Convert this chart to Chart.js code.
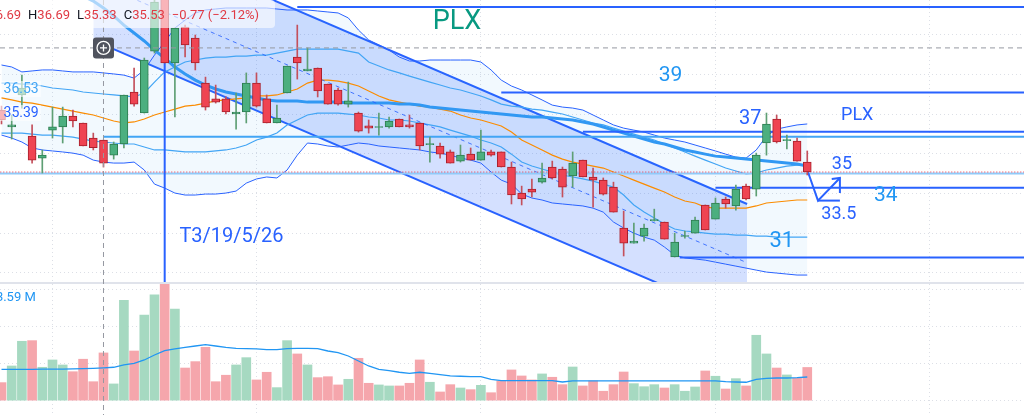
<!DOCTYPE html>
<html>
<head>
<meta charset="utf-8">
<title>PLX</title>
<script src="https://cdn.jsdelivr.net/npm/chart.js"></script>
<style>
  html, body { margin: 0; padding: 0; background: #fff; overflow: hidden; }
</style>
</head>
<body>
<canvas id="plx" width="1024" height="415"></canvas>
<script>
// daily candles, index 0 = first bar on screen
const open = [38.20,37.35,38.96,36.89,35.78,37.19,37.35,37.90,37.55,36.79, 36.69,35.93,36.49,39.11,38.05,41.17,44.25,40.57,42.38,41.83,
  39.56,38.76,38.76,38.00,38.10,39.56,38.76,37.55,39.06,40.87, 40.17,40.32,39.51,39.21,38.50,38.05,37.40,37.32,37.35,37.75,
  37.45,37.55,36.46,36.39,36.09,35.63,35.98,35.68,36.09,36.09, 35.33,34.02,34.22,34.57,35.33,35.23,34.88,35.68,34.83,34.67,
  34.32,32.26,31.50,31.85,32.63,32.56,30.80,31.83,32.00,33.42, 32.71,33.72,33.37,34.37,34.22,36.54,37.75,36.66,36.64,35.58];
const high = [38.40,37.95,39.96,37.45,36.19,38.35,38.35,38.20,37.55,37.04, 36.69,36.59,38.96,40.32,40.82,43.84,44.50,42.33,42.48,41.98,
  39.86,39.46,38.86,39.06,40.07,40.07,38.96,38.45,40.42,42.48, 41.33,40.32,39.51,39.31,39.61,38.10,37.70,38.05,37.85,37.75,
  37.95,37.55,36.84,36.54,36.19,36.44,36.29,37.19,36.19,36.09, 35.58,34.37,34.73,35.53,35.63,35.33,36.09,35.68,35.28,34.78,
  34.57,33.11,32.51,32.46,33.21,32.56,32.00,32.11,32.81,33.42, 33.77,33.82,34.42,34.47,36.03,38.05,37.95,36.94,36.79,36.14];
const low = [37.50,36.74,38.30,35.53,35.03,36.79,36.54,37.35,36.39,36.19, 35.33,35.73,36.29,38.40,38.05,41.07,40.57,37.85,40.87,40.22,
  38.20,38.55,38.00,37.24,37.55,38.35,37.55,37.55,39.06,39.76, 40.17,38.86,38.50,38.45,38.35,37.09,37.04,36.94,37.29,37.35,
  37.29,36.19,35.58,35.78,35.53,35.58,35.68,35.68,35.88,35.33, 33.47,33.42,33.82,34.52,34.73,33.82,34.32,34.83,33.31,33.92,
  33.06,30.85,31.50,31.60,32.61,31.70,30.80,31.75,32.00,32.16, 32.71,33.26,33.16,33.67,33.87,35.93,36.54,36.24,35.63,34.93];
const close = [37.70,37.45,39.31,35.68,35.93,37.35,37.90,37.65,36.39,36.30, 35.53,36.49,38.96,38.50,40.72,43.64,40.57,42.33,41.48,40.57,
  38.35,38.60,38.10,38.10,39.56,38.40,37.55,37.80,40.42,40.57, 40.27,39.16,38.50,38.50,38.66,37.14,37.29,37.37,37.65,37.35,
  37.35,36.39,36.51,35.98,35.53,35.93,35.68,36.09,35.93,35.33, 33.92,33.72,34.07,34.78,34.78,34.32,35.53,34.83,34.67,33.97,
  33.06,31.50,31.60,32.26,32.68,31.70,31.55,31.88,32.66,32.16, 33.52,33.47,34.22,33.72,35.93,37.50,36.59,36.71,35.63,35.08];

// volume in millions and its average
const volume = [1.95,3.75,6.42,6.49,3.61,4.40,3.86,3.13,4.48,2.05, 5.16,1.81,10.85,5.37,9.26,11.43,12.80,9.91,3.53,4.22,
  5.77,2.05,2.75,3.86,4.65,2.24,3.07,1.41,6.49,5.05, 3.86,2.49,2.59,1.70,2.31,4.58,1.88,1.70,1.59,1.59,
  1.88,4.40,1.99,0.94,1.73,1.37,1.19,1.66,0.86,2.13, 3.32,2.67,2.24,2.89,2.53,1.73,3.64,1.59,2.13,1.02,
  1.73,3.10,1.84,1.51,1.73,1.37,1.73,1.02,1.48,3.21, 2.64,1.26,2.38,1.59,7.07,5.05,3.53,2.78,2.42,3.59];
const volumeMA = [3.39,3.39,3.39,3.39,3.40,3.41,3.42,3.44,3.46,3.50, 3.55,3.61,3.86,4.04,4.40,4.94,5.41,5.59,5.77,5.91,
  6.05,5.91,5.77,5.66,5.62,5.59,5.51,5.51,5.62,5.66, 5.66,5.62,5.37,5.19,4.83,4.29,3.75,3.39,3.24,3.07,
  2.96,3.07,2.96,2.81,2.67,2.64,2.59,2.59,2.31,2.16, 2.16,2.16,2.16,2.16,2.16,2.02,2.13,2.13,2.13,2.13,
  2.13,2.13,2.13,2.13,2.13,2.13,2.13,2.13,2.13,2.13, 2.13,2.05,2.02,1.99,2.31,2.42,2.45,2.45,2.49,2.56];

// bands
const bandUpper = [40.47,40.37,40.12,40.17,40.22,40.22,40.17,40.12,40.12,40.12, 40.07,40.02,39.96,39.81,40.22,40.97,41.63,42.33,42.73,43.09,
  43.24,43.29,43.34,43.34,43.34,43.34,43.34,43.29,43.24,43.24, 43.24,43.19,43.14,43.09,42.84,42.23,41.73,41.48,41.22,40.87,
  40.67,40.67,40.72,40.72,40.72,40.72,40.72,40.62,40.22,39.71, 39.41,39.21,38.96,38.71,38.45,38.35,38.30,38.20,37.95,37.70,
  37.45,37.29,37.19,37.09,36.94,36.79,36.69,36.59,36.44,36.29, 36.14,35.98,35.83,35.78,36.19,36.89,37.24,37.35,37.45,37.50];
const bandInnerUpper = [39.56,39.56,39.51,39.51,39.41,39.31,39.26,39.21,39.11,39.06, 39.01,38.96,38.91,38.86,39.06,39.61,40.12,40.37,40.62,40.72,
  40.82,40.87,40.87,40.92,40.92,40.97,40.97,41.07,41.17,41.27, 41.27,41.27,41.27,41.27,41.17,41.07,40.62,40.42,40.22,40.07,
  39.91,39.76,39.61,39.46,39.31,39.21,39.06,38.91,38.71,38.50, 38.40,38.35,38.25,38.20,38.10,38.00,37.85,37.70,37.55,37.45,
  37.29,37.14,36.99,36.84,36.69,36.49,36.29,36.09,35.88,35.68, 35.48,35.28,35.13,34.98,35.03,35.18,35.28,35.38,35.43,35.43];
const basis = [38.81,38.71,38.60,38.55,38.45,38.35,38.25,38.15,38.05,37.95, 37.80,37.65,37.55,37.60,37.75,37.95,38.10,38.25,38.40,38.45,
  38.55,38.66,38.71,38.76,38.81,38.91,38.91,38.96,39.11,39.26, 39.56,39.71,39.71,39.66,39.56,39.41,39.16,38.91,38.71,38.60,
  38.50,38.40,38.35,38.25,38.15,37.95,37.80,37.70,37.55,37.40, 37.09,36.69,36.44,36.19,35.93,35.73,35.58,35.48,35.38,35.28,
  35.08,34.88,34.67,34.47,34.27,34.07,33.82,33.62,33.52,33.31, 33.26,33.26,33.26,33.26,33.37,33.52,33.57,33.62,33.67,33.67];
const bandInnerLower = [37.04,37.04,37.04,36.99,36.94,36.94,36.89,36.84,36.74,36.64, 36.59,36.54,36.49,36.49,36.34,36.19,36.19,36.14,36.09,36.09,
  36.09,36.14,36.19,36.29,36.44,36.69,36.84,37.04,37.45,37.70, 37.95,38.05,38.05,38.05,38.00,37.95,37.85,37.80,37.70,37.70,
  37.65,37.55,37.45,37.35,37.19,37.04,36.89,36.69,36.54,36.34, 35.98,35.58,35.38,35.23,35.08,34.93,34.83,34.73,34.62,34.47,
  34.32,33.92,33.42,33.06,32.76,32.46,32.21,32.11,32.06,32.00, 31.95,31.95,31.90,31.90,31.85,31.85,31.80,31.80,31.80,31.80];
const bandLower = [36.94,36.79,36.59,36.29,36.19,36.14,36.09,36.03,35.93,35.68, 35.58,35.53,35.53,35.58,35.18,34.47,34.27,34.02,33.92,33.92,
  33.97,33.97,34.02,34.12,34.52,34.73,34.83,34.78,35.18,35.93, 36.54,36.49,36.39,36.34,36.44,36.54,36.49,36.39,36.34,36.29,
  36.24,36.19,36.09,36.03,35.93,35.78,35.68,35.53,35.08,34.67, 34.47,33.97,33.77,33.67,33.52,33.47,33.42,33.37,33.26,33.06,
  32.56,32.26,32.00,31.80,31.65,31.30,30.90,30.75,30.70,30.64, 30.54,30.44,30.34,30.24,30.14,30.04,29.99,29.94,29.89,29.89];
const longMA = [45.76,45.56,45.36,45.15,44.95,44.70,44.45,44.20,43.94,43.69, 43.34,42.94,42.48,42.08,41.68,41.22,40.82,40.37,40.02,39.71,
  39.46,39.26,39.11,39.01,38.91,38.81,38.71,38.66,38.66,38.66, 38.60,38.60,38.60,38.60,38.55,38.55,38.55,38.55,38.55,38.50,
  38.50,38.45,38.35,38.30,38.25,38.20,38.15,38.10,38.05,38.00, 37.95,37.90,37.85,37.85,37.80,37.75,37.70,37.60,37.50,37.35,
  37.19,37.04,36.89,36.74,36.59,36.49,36.34,36.19,36.09,35.98, 35.88,35.83,35.78,35.73,35.68,35.63,35.58,35.53,35.48,35.38];

// drawn objects, in (bar index, price)
const channelEnds = [9, 73.1];
const channelTop = [47.64, 33.47];
const channelMid = [44.68, 30.51];
const channelBottom = [41.71, 27.55];
const levelPrice = [43.39, 39.09, 37.11, 34.29, 30.78];
const levelFrom = [29, 49, 57, 70, 66.5];
const softPrice = [36.86, 35.01];
const softFrom = [10, -1];
const markerBar = 16;
const arrowBar = [79.07, 80.05, 82.2];
const arrowPrice = [35.08, 33.64, 34.78];
const arrowHeadBar = [81.4, 82.2, 82.2];
const arrowHeadPrice = [34.73, 34.78, 34.02];
const arrowBaseBar = [80.05, 82.2];
const arrowBasePrice = [33.64, 33.64];
const crossBar = 10, crossPrice = 41.33;

const noteText = ['PLX', '39', '37', 'PLX', '35', '34', '33.5', '31', 'T3/19/5/26'];
const noteBar = [44.66, 65.6, 73.4, 83.9, 82.4, 86.7, 82.1, 76.5, 22.55];
const notePrice = [42.63, 39.94, 37.75, 37.92, 35.46, 33.89, 32.94, 31.58, 31.83];
const tagText = ['36.53', '35.39'];
const tagPrice = [39.26, 38.05];

// grid positions
const priceGrid = [30, 32, 34, 36, 38, 40, 42];
const volumeGrid = [0, 4, 8, 12];
const timeGrid = [5, 25, 47, 70, 91];

const up = close.map((c, i) => c >= open[i]);
const pts = (xs, ys) => xs.map((x, k) => ({ x, y: ys[k] }));
const perBar = ys => ys.map((y, i) => ({ x: i, y }));
const flat = (p, from) => [{ x: from, y: p }, { x: 101, y: p }];
const line = (data, color, width, order, more) => Object.assign({
  type: 'line', data, borderColor: color, borderWidth: width, pointRadius: 0,
  pointHoverRadius: 0, fill: false, tension: 0, order, yAxisID: 'y'
}, more || {});

const datasets = [
  line(pts(channelEnds, channelTop), '#2962ff', 2, 40, { fill: '+1', backgroundColor: 'rgba(41,98,255,0.2)' }),
  line(pts(channelEnds, channelBottom), '#2962ff', 2, 39),
  line(perBar(bandUpper), '#2962ff', 1, 38, { fill: '+1', backgroundColor: 'rgba(33,150,243,0.06)' }),
  line(perBar(bandLower), '#2962ff', 1, 37),
  line(perBar(bandInnerUpper), '#42a5f5', 1.2, 36),
  line(perBar(bandInnerLower), '#42a5f5', 1.2, 35),
  line(perBar(basis), '#fb8c00', 1.2, 34),
  line(perBar(longMA), '#3198f3', 3, 33),
  line(pts(channelEnds, channelMid), 'rgba(41,98,255,0.85)', 1, 32, { borderDash: [4, 4] }),
  ...levelPrice.map((p, k) => line(flat(p, levelFrom[k]), '#2962ff', 2, 31)),
  line(flat(softPrice[0], softFrom[0]), '#42a5f5', 2, 31),
  line(flat(softPrice[1], softFrom[1]), '#90caf9', 2, 31),
  line(flat(close[close.length - 1], -1), '#f23645', 1, 30, { borderDash: [1, 2] }),
  line([{ x: markerBar, y: 28 }, { x: markerBar, y: 46 }], '#2962ff', 2, 30),
  line(pts(arrowBar, arrowPrice), '#2962ff', 2, 30),
  line(pts(arrowHeadBar, arrowHeadPrice), '#2962ff', 2, 30),
  line(pts(arrowBaseBar, arrowBasePrice), '#2962ff', 2, 30),
  {
    type: 'bar', yAxisID: 'v', data: perBar(volume), order: 20, grouped: false, barThickness: 9,
    backgroundColor: up.map(u => u ? '#a6d9c1' : '#f5a6ac')
  },
  line(perBar(volumeMA), '#2196f3', 1.3, 19, { yAxisID: 'v' }),
  {
    type: 'bar', yAxisID: 'y', order: 2, grouped: false, barThickness: 1,
    data: open.map((o, i) => ({ x: i, y: [low[i], high[i]] })),
    backgroundColor: up.map(u => u ? '#5e9f74' : '#c4505c')
  },
  {
    type: 'bar', yAxisID: 'y', order: 1, grouped: false, barThickness: 8, minBarLength: 1,
    borderWidth: 1, borderSkipped: false,
    data: open.map((o, i) => ({ x: i, y: [o, close[i]] })),
    backgroundColor: up.map(u => u ? '#4caf7f' : '#ef4452'),
    borderColor: up.map(u => u ? '#2e7d50' : '#a8202d')
  }
];

const axis = (grid, more) => Object.assign({
  type: 'linear',
  ticks: { display: false },
  grid: { color: '#dcdfe6', lineWidth: 1, drawTicks: false, offset: false },
  border: { display: false, dash: [1, 3] },
  afterBuildTicks: ax => { ax.ticks = grid.map(value => ({ value })); }
}, more);

const noteSize = [27, 21, 20, 18, 18, 21, 18, 22, 20];
const noteColor = ['#089981', '#2196f3', '#2962ff', '#2962ff', '#2962ff', '#2196f3', '#2962ff', '#2196f3', '#2962ff'];
const tagColor = ['#42a5f5', '#2962ff'];
const red = '#e03a44';
const fmt = n => (n < 0 ? '\u2212' : '+') + Math.abs(n).toFixed(2);

const drawings = {
  id: 'drawings',
  afterDatasetsDraw(chart) {
    const { ctx, scales: { x, y, v } } = chart;
    ctx.save();

    // pane separator
    ctx.strokeStyle = '#e0e3eb';
    ctx.lineWidth = 2;
    ctx.beginPath();
    ctx.moveTo(0, y.bottom);
    ctx.lineTo(chart.width, y.bottom);
    ctx.stroke();

    ctx.textBaseline = 'middle';
    ctx.textAlign = 'center';
    noteText.forEach((t, k) => {
      ctx.font = noteSize[k] + 'px Roboto';
      ctx.fillStyle = noteColor[k];
      ctx.fillText(t, x.getPixelForValue(noteBar[k]), y.getPixelForValue(notePrice[k]));
    });

    // left value tags
    ctx.textAlign = 'left';
    ctx.font = '14px Roboto';
    tagText.forEach((t, k) => {
      const px = x.getPixelForValue(0.2), py = y.getPixelForValue(tagPrice[k]);
      ctx.fillStyle = 'rgba(255,255,255,0.6)';
      ctx.fillRect(px - 4, py - 8, ctx.measureText(t).width + 6, 16);
      ctx.fillStyle = tagColor[k];
      ctx.fillText(t, px, py);
    });

    // volume tag
    ctx.font = '13px Roboto';
    ctx.fillStyle = '#2196f3';
    ctx.fillText(volume[volume.length - 1].toFixed(2) + ' M', x.getPixelForValue(-0.55), v.getPixelForValue(11.1));

    // crosshair
    const cx = x.getPixelForValue(crossBar), cy = y.getPixelForValue(crossPrice);
    ctx.strokeStyle = '#9598a1';
    ctx.lineWidth = 1;
    ctx.setLineDash([5, 4]);
    ctx.beginPath();
    ctx.moveTo(cx, 0); ctx.lineTo(cx, chart.height);
    ctx.moveTo(0, cy); ctx.lineTo(chart.width, cy);
    ctx.stroke();
    ctx.setLineDash([]);
    ctx.fillStyle = '#50535e';
    ctx.beginPath();
    ctx.roundRect(cx - 10.5, cy - 10.5, 21, 21, 3);
    ctx.fill();
    ctx.strokeStyle = '#fff';
    ctx.lineWidth = 1.3;
    ctx.beginPath();
    ctx.arc(cx, cy, 6.5, 0, Math.PI * 2);
    ctx.moveTo(cx - 3.5, cy); ctx.lineTo(cx + 3.5, cy);
    ctx.moveTo(cx, cy - 3.5); ctx.lineTo(cx, cy + 3.5);
    ctx.stroke();

    // legend of the hovered bar
    ctx.fillStyle = 'rgba(255,255,255,0.6)';
    ctx.beginPath();
    ctx.roundRect(-6, 0, 281, 28, 4);
    ctx.fill();
    ctx.font = '13px Roboto';
    let lx = -20.5;
    const ly = 16, b = crossBar;
    [['O', open[b]], ['H', high[b]], ['L', low[b]], ['C', close[b]]].forEach(([k, val]) => {
      ctx.fillStyle = '#131722';
      ctx.fillText(k, lx, ly);
      lx += ctx.measureText(k).width;
      ctx.fillStyle = red;
      const s = val.toFixed(2);
      ctx.fillText(s, lx, ly);
      lx += ctx.measureText(s).width + 7;
    });
    const chg = close[b] - close[b - 1];
    ctx.fillText(fmt(chg) + ' (' + fmt(chg / close[b - 1] * 100) + '%)', lx, ly);

    ctx.restore();
  }
};

new Chart(document.getElementById('plx'), {
  type: 'bar',
  data: { datasets },
  options: {
    responsive: false,
    animation: false,
    events: [],
    layout: { padding: 0 },
    plugins: { legend: { display: false }, tooltip: { enabled: false } },
    scales: {
      x: axis(timeGrid, { min: -0.147, max: 100.25, offset: false }),
      y: axis(priceGrid, { position: 'right', stack: 'panes', stackWeight: 283, min: 29.49, max: 43.743 }),
      v: axis(volumeGrid, { position: 'right', stack: 'panes', stackWeight: 132, min: -1.55, max: 12.72 })
    }
  },
  plugins: [drawings]
});
</script>
</body>
</html>
